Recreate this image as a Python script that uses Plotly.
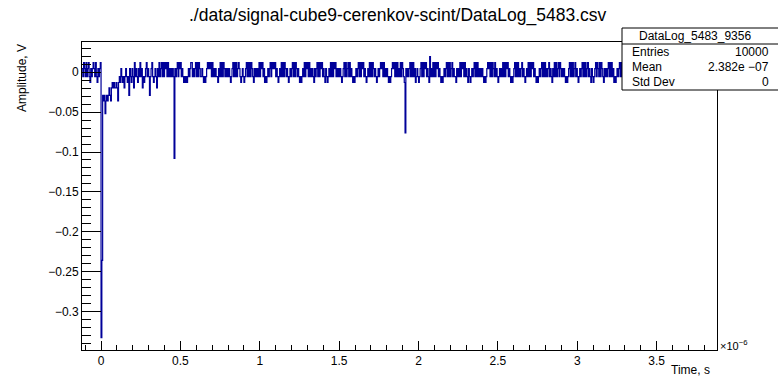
import plotly.graph_objects as go

# Digitizer record: samples 5 ns apart, starting 0.12 us before the trigger
T0_US = -0.12
DT_US = 0.005

# Quantized amplitude levels (V) used in the noise record below
LEVELS = {
    "p": 0.0122,
    "u": 0.0045,
    "d": -0.0055,
    "n": -0.0128,
    "m": -0.0195,
    "k": -0.0290,
    "j": -0.0360,
}

# Sample-by-sample level codes, 50 samples per row
NOISE_ROWS = [
    "udpudpdupdnudupudpdnudup" + "dd" + "kjkmjkjkmkjm" + "nmnmmnm" + "jndnu",
    "dndmdudndk" "udnudmpdud" "nudpdumdnd" "updudkdupd" "ndudmudpdu",
    "pdpdpupdpd" "udududnudu" "pdpupdudnd" "ndnduduppd" "udupdpdpud",
    "dudndndupu" "pupdpdudud" "dnudpdpdpu" "dudududndu" "pdpdpdupud",
    "ndudndupdp" "dpdpudnudu" "dudpdpupdu" "ndndudupdp" "upupdudndu",
    "dpdpdpudud" "ndudupdpdp" "ududndndud" "pdpupdpdud" "udnudupdpd",
    "pupdudnudn" "dudpdpdpup" "dudududndu" "pdpdupdpdu" "dndndudupd",
    "pdpupdudnd" "udpdpdpudu" "dndudupupd" "pdududndnd" "upupdpdpdu",
    "dpdpudndud" "udupdpdpdu" "ndudndupdp" "dpupdudnud" "udpdpdpupd",
    "udndndudup" "dpdpdupdud" "dnududpdpu" "pdpdudnudn" "dudupdpdpd",
    "udududndnd" "upupdpdpud" "pdudndudud" "pdpdpupdud" "ndndupdpdp",
    "dudupdudnd" "udpdpdpupd" "udndndudup" "dpdpdudupd" "udnudpdpdu",
    "pdpudududn" "dndupdpdpd" "updudndudu" "pdpdpdupdu" "dnudndupdp",
    "udpdpudnud" "udupdpdpdu" "ndndudupdp" "dpudnudupu" "dpdpdudndu",
    "dudpdpdupd" "ndndudpdpd" "pudududndu" "pdpdpupdud" "ndudndpdpd",
    "upudpdpdud" "ndudnduddp" "dpdupdudnd" "updpdpdudu" "dndudpdpdu",
]

# Isolated samples outside the quantized noise levels (index, volts)
SPIKE_IDX = [24, 25, 29, 116, 407, 438]
SPIKE_VAL = [-0.333, -0.236, -0.052, -0.108, -0.076, 0.0196]

TITLE = "./data/signal-cube9-cerenkov-scint/DataLog_5483.csv"
STAT_NAME = "DataLog_5483_9356"
STAT_LABELS = ["Entries", "Mean", "Std Dev"]
STAT_VALUES = ["10000", "2.382e \u221207", "0"]

codes = "".join(NOISE_ROWS)
amp = [LEVELS[c] for c in codes]
for i, v in zip(SPIKE_IDX, SPIKE_VAL):
    amp[i] = v
time_us = [T0_US + i * DT_US for i in range(len(amp))]

W, H = 778, 380
L, R, T, B = 82, 61, 42, 30
PW, PH = W - L - R, H - T - B


def px(x):
    return (x - L) / PW


def py(y):
    return (H - B - y) / PH


FONT = "Liberation Sans, Arial, Helvetica, sans-serif"
BLUE = "#000099"

fig = go.Figure()
fig.add_trace(go.Scatter(
    x=time_us, y=amp, mode="lines",
    line=dict(color=BLUE, width=1.2, shape="hv", simplify=False),
    hoverinfo="skip", showlegend=False,
))

fig.update_layout(
    width=W, height=H,
    margin=dict(l=L, r=R, t=T, b=B, pad=0),
    paper_bgcolor="white", plot_bgcolor="white",
    font=dict(family=FONT, size=12, color="black"),
    xaxis=dict(
        range=[-0.12, 3.88], tickmode="linear", tick0=0, dtick=0.5,
        ticks="inside", ticklen=9, tickwidth=1, tickcolor="black",
        minor=dict(ticks="inside", ticklen=5, tickwidth=1, tickcolor="black",
                   tick0=0, dtick=0.1, showgrid=False),
        showline=True, linecolor="black", linewidth=1, mirror=True,
        showgrid=False, zeroline=False,
        tickfont=dict(family=FONT, size=12, color="black"),
    ),
    yaxis=dict(
        range=[-0.3484, 0.038], tickmode="linear", tick0=0, dtick=0.05,
        ticks="inside", ticklen=19, tickwidth=1, tickcolor="black",
        minor=dict(ticks="inside", ticklen=9, tickwidth=1, tickcolor="black",
                   tick0=0, dtick=0.01, showgrid=False),
        showline=True, linecolor="black", linewidth=1, mirror=True,
        showgrid=False, zeroline=False,
        tickfont=dict(family=FONT, size=12, color="black"),
    ),
)

ann = []
ann.append(dict(text=TITLE, x=px(398), y=py(16), xref="paper", yref="paper",
                xanchor="center", yanchor="middle", showarrow=False,
                font=dict(family=FONT, size=17.5, color="black")))
ann.append(dict(text="Amplitude, V", x=px(22), y=py(78), xref="paper", yref="paper",
                xanchor="center", yanchor="middle", textangle=-90, showarrow=False,
                font=dict(family=FONT, size=12, color="black")))
ann.append(dict(text="Time, s", x=px(712), y=py(370), xref="paper", yref="paper",
                xanchor="right", yanchor="middle", showarrow=False,
                font=dict(family=FONT, size=12, color="black")))
ann.append(dict(text="\u00d710<sup>\u22126</sup>", x=px(718), y=py(345), xref="paper", yref="paper",
                xanchor="left", yanchor="middle", showarrow=False,
                font=dict(family=FONT, size=11, color="black")))

# statistics box
fig.add_shape(type="rect", xref="paper", yref="paper",
              x0=px(622), x1=px(790), y0=py(90), y1=py(28),
              line=dict(color="black", width=1), fillcolor="white", layer="above")
fig.add_shape(type="line", xref="paper", yref="paper",
              x0=px(622), x1=px(790), y0=py(44), y1=py(44),
              line=dict(color="black", width=1), layer="above")
ann.append(dict(text=STAT_NAME, x=px(695), y=py(35.5), xref="paper", yref="paper",
                xanchor="center", yanchor="middle", showarrow=False,
                font=dict(family=FONT, size=12, color="black")))
for k, (lab, val) in enumerate(zip(STAT_LABELS, STAT_VALUES)):
    yy = 52.5 + k * 14.8
    ann.append(dict(text=lab, x=px(630), y=py(yy), xref="paper", yref="paper",
                    xanchor="left", yanchor="middle", showarrow=False,
                    font=dict(family=FONT, size=12, color="black")))
    ann.append(dict(text=val, x=px(771), y=py(yy), xref="paper", yref="paper",
                    xanchor="right", yanchor="middle", showarrow=False,
                    font=dict(family=FONT, size=12, color="black")))

fig.update_layout(annotations=ann)
fig.write_html("out.html")
